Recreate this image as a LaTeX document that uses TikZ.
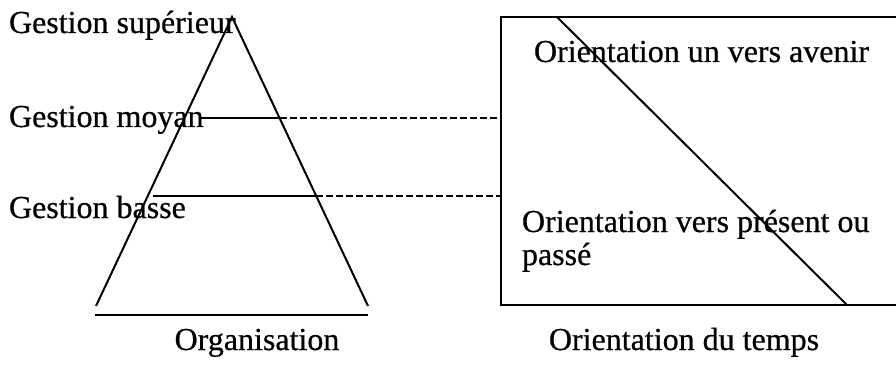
\documentclass[tikz,border=0pt]{standalone}
\usepackage{fontspec}
\setmainfont[BoldFont={Liberation Serif},BoldFeatures={FakeBold=0.6}]{Liberation Serif}
\begin{document}
\begin{tikzpicture}[x=1pt,y=-1pt,
  lbl/.style={inner sep=0pt,outer sep=0pt,font=\fontsize{32}{34}\selectfont\bfseries},
  ln/.style={line width=2pt},
  dln/.style={line width=1.7pt,dash pattern=on 7pt off 3pt}]
\useasboundingbox (0,0) rectangle (896,366);
% triangle
\coordinate (apex) at (232,17);
\coordinate (bl) at (96,306);
\coordinate (br) at (368,306);
\draw[ln,line join=miter] (bl) -- (apex) -- (br);
\coordinate (b1) at (95,315);
\coordinate (b2) at (368,315);
\draw[ln] (b1) -- (b2);
% box
\coordinate (tr) at (900,17);
\coordinate (tl) at (501,17);
\coordinate (blx) at (501,305);
\coordinate (brx) at (900,305);
\draw[ln] (tr) -- (tl) -- (blx) -- (brx);
\coordinate (d1) at (557,17);
\coordinate (d2) at (847,305);
\draw[ln] (d1) -- (d2);
% level lines
\coordinate (m1) at (200,118);
\coordinate (m2) at (280,118);
\coordinate (m3) at (501,118);
\draw[ln] (m1) -- (m2);
\draw[dln] (m2) -- (m3);
\coordinate (s1) at (153,196);
\coordinate (s2) at (316,196);
\coordinate (s3) at (501,196);
\draw[ln] (s1) -- (s2);
\draw[dln] (s2) -- (s3);
% labels
\node[lbl,anchor=base west] (gs) at (9,33) {Gestion supérieur};
\node[lbl,anchor=base west] (gm) at (9,127) {Gestion moyan};
\node[lbl,anchor=base west] (gb) at (9,218) {Gestion basse};
\node[lbl,anchor=base west] (oa) at (534,62) {Orientation un vers avenir};
\node[lbl,anchor=base west] (op) at (522,232) {Orientation vers présent ou};
\node[lbl,anchor=base west] (op2) at (522,265) {passé};
\node[lbl,anchor=base] (org) at (257,350) {Organisation};
\node[lbl,anchor=base] (ot) at (684,350) {Orientation du temps};
\end{tikzpicture}
\end{document}
